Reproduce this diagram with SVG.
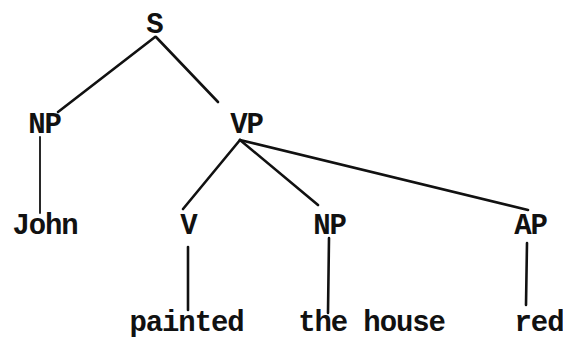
<svg xmlns="http://www.w3.org/2000/svg" width="563" height="339" viewBox="0 0 563 339">
<style>
.t{font-family:"Liberation Mono","DejaVu Sans Mono",monospace;font-size:29px;letter-spacing:-1.1px;font-weight:bold;fill:#111;text-anchor:middle}
.e line{stroke:#111;stroke-width:2.6;stroke-linecap:round}
</style>
<rect width="563" height="339" fill="#fff"/>
<g class="e" id="edges">
<line x1="155" y1="37" x2="58" y2="112"/>
<line x1="156" y1="37" x2="218" y2="102"/>
<line x1="40" y1="137" x2="40" y2="213" style="stroke-width:1.8"/>
<line x1="240" y1="140" x2="183" y2="209"/>
<line x1="240" y1="140" x2="318" y2="205"/>
<line x1="240" y1="140" x2="528" y2="210"/>
<line x1="188" y1="247" x2="188" y2="310"/>
<line x1="329" y1="238" x2="328" y2="313"/>
<line x1="527" y1="243" x2="526" y2="305"/>
</g>
<g id="S"><text class="t" x="154.5" y="33">S</text></g>
<g id="NP1"><text class="t" x="44.5" y="133">NP</text></g>
<g id="VP"><text class="t" x="246.5" y="133">VP</text></g>
<g id="John"><text class="t" x="45" y="234">John</text></g>
<g id="V"><text class="t" x="188.5" y="234">V</text></g>
<g id="NP2"><text class="t" x="329.5" y="234">NP</text></g>
<g id="AP"><text class="t" x="530.5" y="234">AP</text></g>
<g id="painted"><text class="t" x="186.5" y="331">painted</text></g>
<g id="thehouse"><text class="t" x="371.5" y="331">the house</text></g>
<g id="red"><text class="t" x="539" y="331">red</text></g>
</svg>
